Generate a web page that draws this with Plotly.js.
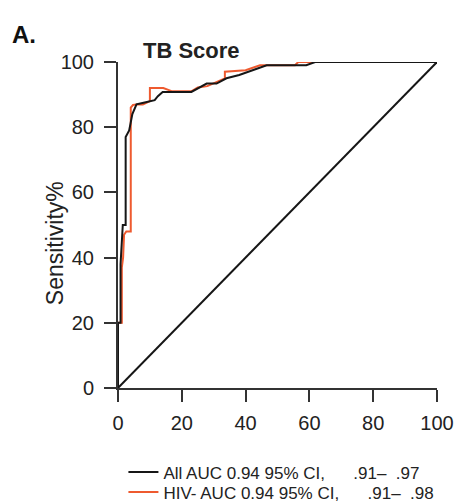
<!DOCTYPE html>
<html>
<head>
<meta charset="utf-8">
<script src="https://cdn.plot.ly/plotly-3.0.1.min.js"></script>
<style>html,body{margin:0;padding:0;background:#fff;}#chart{width:461px;height:503px;}</style>
</head>
<body>
<div id="chart"></div>
<script>
// False positive rate (100 - specificity %) and sensitivity %
var allFpr = [0, 0, 0.8, 0.8, 1.5, 2.4, 2.4, 3.5, 4.5, 5.8, 8, 11.5, 12.5, 14, 23, 25, 27.8, 30.9, 34, 38, 43.5, 46.6, 59, 61.8, 100];
var allTpr = [0, 20, 20, 38, 50, 50, 77, 79, 84, 87, 87.5, 88.3, 89.5, 90.8, 90.8, 91.8, 93.4, 93.4, 95, 96, 98, 99, 99, 100, 100];
var hivFpr = [0, 0, 1.2, 1.2, 1.6, 1.9, 2.6, 4, 4, 4.7, 5.8, 7.8, 10, 10, 14.2, 17, 23, 25, 28, 31, 33.5, 33.5, 40, 44.5, 55.5, 56.5, 100];
var hivTpr = [0, 20, 20, 37, 40, 47, 48, 48, 86, 86.8, 87, 87, 88, 92, 92, 91, 91, 92.2, 92.6, 94, 95, 97, 97.5, 99, 99, 100, 100];
var refLine = [0, 100];
var tickVals = [0, 20, 40, 60, 80, 100];
var legendAll = "All AUC 0.94 95% CI,      .91\u2013  .97";
var legendHiv = "HIV- AUC 0.94 95% CI,      .91\u2013  .98";

var black = '#161616', red = '#ee5a2f';
var font = 'Liberation Sans, Arial, Helvetica, sans-serif';

var traces = [
  {x: refLine, y: refLine, mode: 'lines', line: {color: black, width: 2}, showlegend: false, cliponaxis: false, hoverinfo: 'skip'},
  {x: hivFpr, y: hivTpr, mode: 'lines', name: legendHiv, line: {color: red, width: 2}, legend: 'legend2', cliponaxis: false},
  {x: allFpr, y: allTpr, mode: 'lines', name: legendAll, line: {color: black, width: 2}, legend: 'legend', cliponaxis: false}
];

var axisCommon = {
  range: [0, 100], tickvals: tickVals, ticks: 'outside', ticklen: 12, tickwidth: 2, tickcolor: '#333',
  showline: true, linewidth: 2, linecolor: '#333', showgrid: false, zeroline: false,
  tickfont: {family: font, size: 20, color: '#222'}, fixedrange: true
};

var legendFont = {family: font, size: 17, color: '#222'};

var layout = {
  width: 461, height: 503,
  margin: {l: 118, r: 24, t: 62, b: 115, autoexpand: false},
  paper_bgcolor: '#fff', plot_bgcolor: '#fff',
  font: {family: font, color: '#222'},
  title: {text: '<b>TB Score</b>', font: {family: font, size: 22, color: '#222'}, x: 143/461, xanchor: 'left', xref: 'container', y: 1 - 50/503, yanchor: 'middle', yref: 'container'},
  xaxis: Object.assign({}, axisCommon, {ticklabelstandoff: 4}),
  yaxis: Object.assign({}, axisCommon, {ticklabelstandoff: 6}),
  showlegend: true,
  legend: {x: 0.017, xanchor: 'left', y: -0.204, yanchor: 'top', font: legendFont, bgcolor: 'rgba(0,0,0,0)', itemwidth: 30},
  legend2: {x: 0.017, xanchor: 'left', y: -0.265, yanchor: 'top', font: legendFont, bgcolor: 'rgba(0,0,0,0)', itemwidth: 30},
  annotations: [
    {text: '<b>A.</b>', xref: 'paper', yref: 'paper', x: -0.34, xanchor: 'left', y: (388 - 34) / 326, yanchor: 'middle', showarrow: false, font: {family: font, size: 24, color: '#111'}},
    {text: 'Sensitivity%', textangle: -90, xref: 'paper', yref: 'paper', x: (55 - 118) / 320, xanchor: 'center', y: (388 - 243) / 326, yanchor: 'middle', showarrow: false, font: {family: font, size: 23, color: '#222'}}
  ]
};

Plotly.newPlot('chart', traces, layout, {displayModeBar: false, staticPlot: true});
</script>
</body>
</html>
